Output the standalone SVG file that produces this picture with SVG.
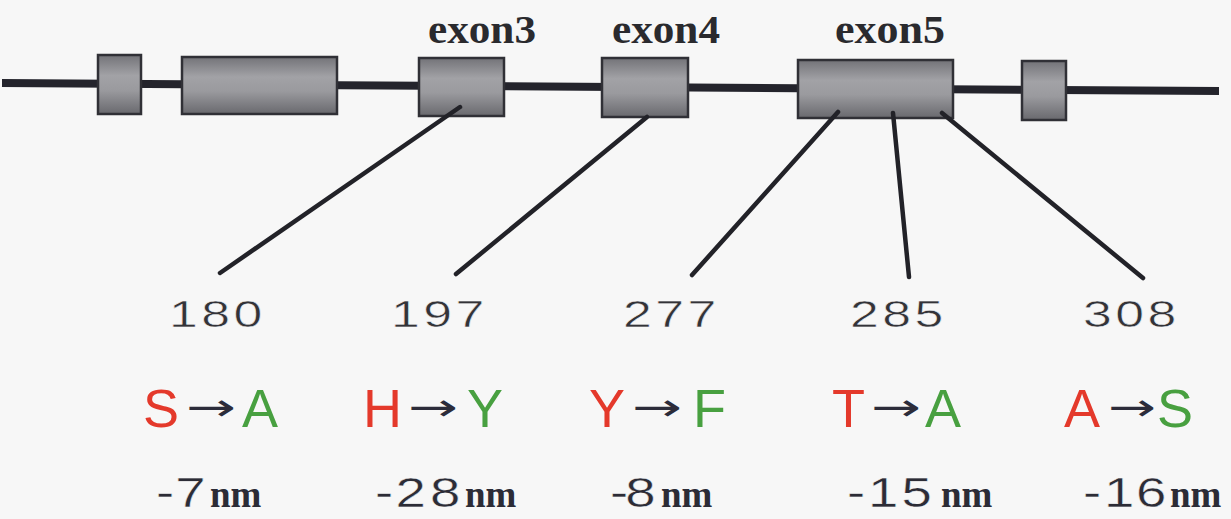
<svg xmlns="http://www.w3.org/2000/svg" width="1231" height="519" viewBox="0 0 1231 519">
<defs>
<linearGradient id="exonFill" x1="0" y1="0" x2="0" y2="1">
<stop offset="0" stop-color="#737378"/>
<stop offset="0.35" stop-color="#a2a2a6"/>
<stop offset="0.6" stop-color="#9a9a9e"/>
<stop offset="1" stop-color="#69696e"/>
</linearGradient>
<style>
.exon{fill:url(#exonFill);stroke:#303036;stroke-width:2.5}
.backbone{stroke:#24242c;stroke-width:8;fill:none}
.conn{stroke:#222228;stroke-width:4.5;stroke-linecap:round;fill:none}
.exlabel{font-family:"Liberation Serif",serif;font-weight:bold;font-size:41px;fill:#2a2a2e}
.pos{font-family:"Liberation Sans",Arial,sans-serif;font-size:37px;fill:#333338;stroke:#f7f7f7;stroke-width:0.5}
.aa{font-family:"Liberation Sans",Arial,sans-serif;font-size:54px}
.red{fill:#e4392b}
.green{fill:#48a040}
.arrow{font-family:"DejaVu Sans",sans-serif;font-size:38px;fill:#2c2c3a}
.shift{font-family:"Liberation Sans",Arial,sans-serif;font-size:42px;fill:#2c2c36;stroke:#f7f7f7;stroke-width:0.4}
.nm{font-family:"Liberation Serif",serif;font-weight:bold;font-size:37px;fill:#2c2c36}
</style>
</defs>
<rect x="0" y="0" width="1231" height="519" fill="#f7f7f7"/>
<line id="gene-backbone" class="backbone" x1="2" y1="83" x2="1219" y2="91"/>
<g id="exon1"><rect class="exon" x="98" y="55" width="43" height="59"/></g>
<g id="exon2"><rect class="exon" x="182" y="57" width="155" height="57"/></g>
<g id="exon3"><rect class="exon" x="419" y="58" width="85" height="58"/><text class="exlabel" x="428" y="43" textLength="108" lengthAdjust="spacingAndGlyphs">exon3</text></g>
<g id="exon4"><rect class="exon" x="602" y="58" width="86" height="59"/><text class="exlabel" x="612" y="43" textLength="108" lengthAdjust="spacingAndGlyphs">exon4</text></g>
<g id="exon5"><rect class="exon" x="798" y="60" width="155" height="58"/><text class="exlabel" x="835" y="43" textLength="110" lengthAdjust="spacingAndGlyphs">exon5</text></g>
<g id="exon6"><rect class="exon" x="1022" y="61" width="44" height="59"/></g>
<g id="connectors">
<line class="conn" x1="460" y1="107" x2="220" y2="273"/>
<line class="conn" x1="647" y1="117" x2="456" y2="274"/>
<line class="conn" x1="838" y1="112" x2="692" y2="275"/>
<line class="conn" x1="893" y1="113" x2="909" y2="277"/>
<line class="conn" x1="942" y1="113" x2="1143" y2="278"/>
</g>
<g id="site180">
<text class="pos" transform="matrix(1.4 0 0 1 169 327)" x="0 23 46">180</text>
<text class="aa red" x="143" y="427">S</text><text class="arrow" x="186" y="420" textLength="50" lengthAdjust="spacingAndGlyphs">→</text><text class="aa green" x="242" y="427">A</text>
<text class="shift" transform="matrix(1.3 0 0 1 156 507)" x="0 14.8">-7</text><text class="nm" x="210" y="507">nm</text>
</g>
<g id="site197">
<text class="pos" transform="matrix(1.4 0 0 1 391 327)" x="0 23 46">197</text>
<text class="aa red" x="363" y="427">H</text><text class="arrow" x="408" y="420" textLength="50" lengthAdjust="spacingAndGlyphs">→</text><text class="aa green" x="467" y="427">Y</text>
<text class="shift" transform="matrix(1.3 0 0 1 375 507)" x="0 15.7 42.3">-28</text><text class="nm" x="465" y="507">nm</text>
</g>
<g id="site277">
<text class="pos" transform="matrix(1.4 0 0 1 623 327)" x="0 23 46">277</text>
<text class="aa red" x="589" y="427">Y</text><text class="arrow" x="632" y="420" textLength="50" lengthAdjust="spacingAndGlyphs">→</text><text class="aa green" x="693" y="427">F</text>
<text class="shift" transform="matrix(1.3 0 0 1 610 507)" x="0 11.8">-8</text><text class="nm" x="661" y="507">nm</text>
</g>
<g id="site285">
<text class="pos" transform="matrix(1.4 0 0 1 850 327)" x="0 23 46">285</text>
<text class="aa red" x="832" y="427">T</text><text class="arrow" x="871" y="420" textLength="50" lengthAdjust="spacingAndGlyphs">→</text><text class="aa green" x="925" y="427">A</text>
<text class="shift" transform="matrix(1.3 0 0 1 847 507)" x="0 16.2 42">-15</text><text class="nm" x="941" y="507">nm</text>
</g>
<g id="site308">
<text class="pos" transform="matrix(1.4 0 0 1 1083 327)" x="0 23 46">308</text>
<text class="aa red" x="1064" y="427">A</text><text class="arrow" x="1108" y="420" textLength="48" lengthAdjust="spacingAndGlyphs">→</text><text class="aa green" x="1157" y="427">S</text>
<text class="shift" transform="matrix(1.3 0 0 1 1083 507)" x="0 16.2 40.8">-16</text><text class="nm" x="1170" y="507">nm</text>
</g>
</svg>
